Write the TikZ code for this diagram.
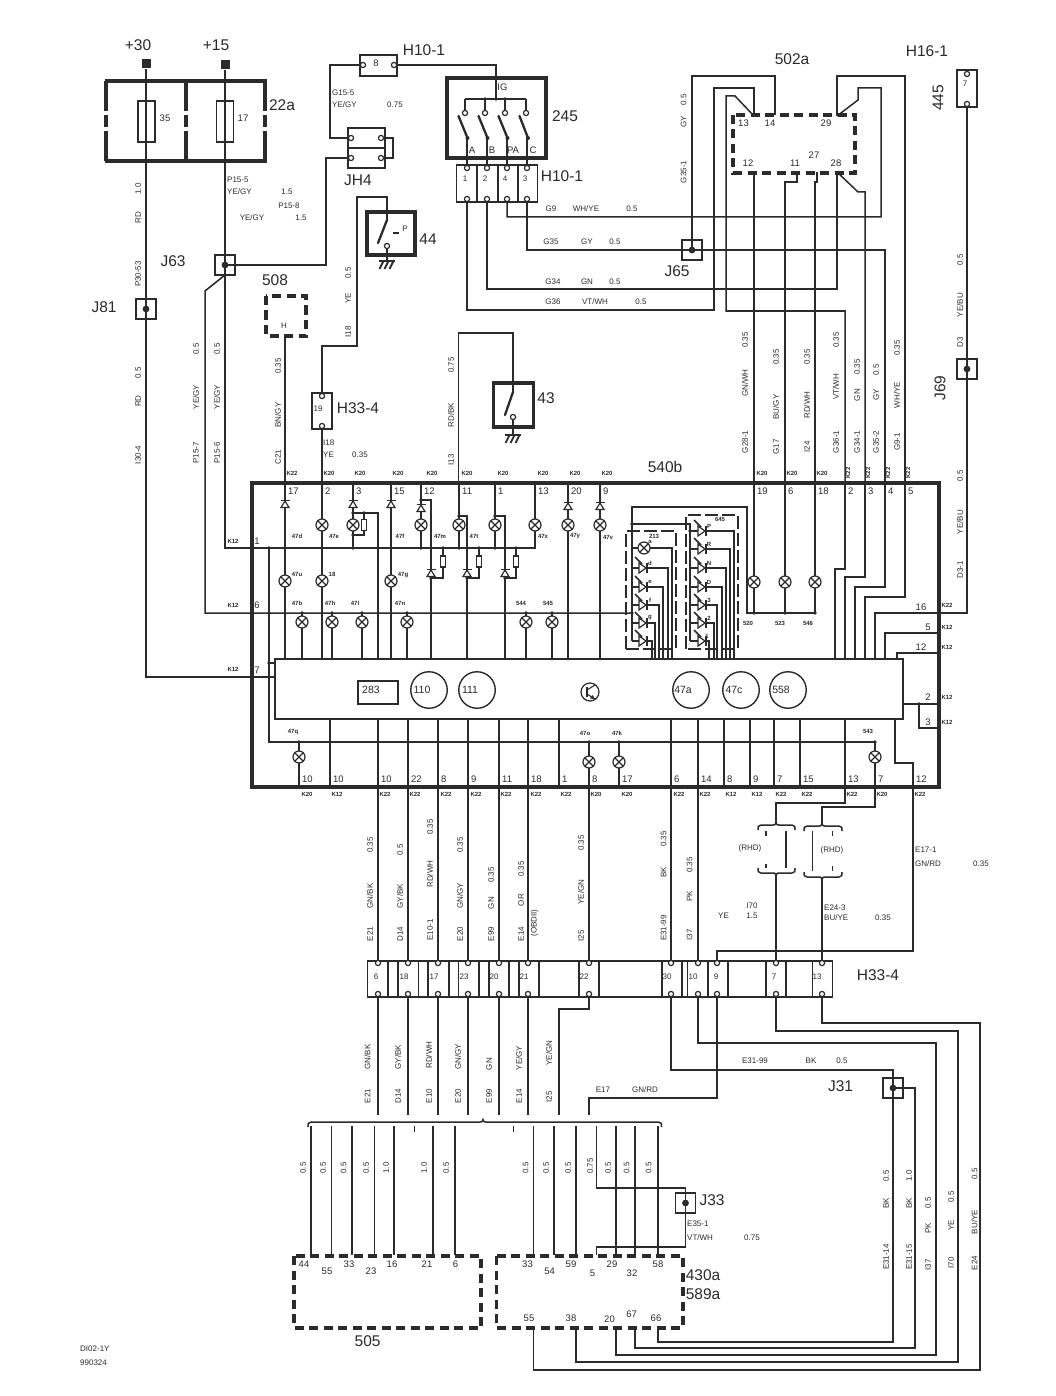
\documentclass[tikz,border=0pt]{standalone}
\usepackage{fontspec}
\setmainfont{Liberation Sans}
\definecolor{ink}{gray}{0.17}
\newcount\lblc
\newcommand\lab[4][midl]{\global\advance\lblc by 1 \node[#1] (t\the\lblc) at (#2,#3) {#4};}
\newcommand\xrl[3]{\lab[rlab]{#1}{#2}{#3}}
\newcommand\xsl[3]{\lab[sml]{#1}{#2}{#3}}
\newcommand\xwl[3]{\lab[sml,anchor=west]{#1}{#2}{#3}}
\newcommand\xtl[3]{\lab[tnyl]{#1}{#2}{#3}}
\newcommand\xbl[3]{\lab[bigl]{#1}{#2}{#3}}
\newcommand\xpn[3]{\lab[midl,anchor=west]{#1}{#2}{#3}}
\newcommand\xdt[2]{\fill[ink] (#1,#2) circle (1.9);}
\newcommand\pinc[2]{\draw[draw=ink,fill=white,line width=1.2pt] (#1,#2) circle (2.6);}
\newcommand\vdi[2]{\draw[draw=ink,fill=white,line width=1.2pt] (#1-4,#2+3.5)--(#1+4,#2+3.5)--(#1,#2-3)--cycle; \draw[ink,line width=1.3pt] (#1-4.5,#2-3.5)--(#1+4.5,#2-3.5);}
\newcommand\ledi[2]{\fill[white] (#1-4,#2-5) rectangle (#1+4,#2+5); \draw[draw=ink,fill=white,line width=1.2pt] (#1-4,#2-5)--(#1-4,#2+5)--(#1+3,#2)--cycle; \draw[ink,line width=1.5pt] (#1+4,#2-5)--(#1+4,#2+5); \draw[ink,line width=1.6pt] (#1-8,#2-11)--(#1-1,#2-4);}
\newcommand\gnd[2]{\draw[ink,line width=1.3pt] (#1-8,#2)--(#1+8,#2); \foreach \dd in {-5,0,5} {\draw[ink,line width=1.8pt] (#1+\dd+1.5,#2)--(#1+\dd-2.5,#2+8);}}
\newcommand\curly[5]{\draw[wire] (#1,{#4+5*#5}) .. controls (#1,{#4+1*#5}) .. (#1+3,#4) -- (#2-3,#4) .. controls (#2-1,#4) .. (#2,{#4-2.5*#5}) .. controls (#2+1,#4) .. (#2+3,#4) -- (#3-3,#4) .. controls (#3,{#4+1*#5}) .. (#3,{#4+5*#5});}
\begin{document}
\begin{tikzpicture}[x=1pt,y=-1pt,
 wire/.style={draw=ink,line width=1.5pt},
 wall/.style={draw=ink,line width=3.4pt},
 thinbox/.style={draw=ink,line width=1.4pt,inner sep=0pt},
 dashb/.style={draw=ink,line width=3.2pt,dash pattern=on 9pt off 5.5pt},
 dashg/.style={draw=ink,line width=1.3pt,dash pattern=on 13pt off 4pt},
 blade/.style={draw=ink,line width=2.3pt,line cap=round},
 jbox/.style={draw=ink,line width=1.6pt,minimum size=20pt,inner sep=0pt},
 term/.style={fill=ink,minimum size=9pt,inner sep=0pt},
 lampn/.style={circle,draw=ink,fill=white,line width=1.2pt,minimum size=12pt,inner sep=0pt,
   path picture={\draw[ink,line width=1.1pt] (path picture bounding box.north west)--(path picture bounding box.south east) (path picture bounding box.north east)--(path picture bounding box.south west);}},
 rndc/.style={circle,draw=ink,line width=1.4pt,minimum size=36.5pt,inner sep=0pt},
 midl/.style={text=ink,inner sep=0pt,font=\fontsize{9.5}{10}\selectfont},
 sml/.style={text=ink,inner sep=0pt,font=\fontsize{8}{9}\selectfont},
 rlab/.style={text=ink,inner sep=0pt,rotate=90,font=\fontsize{8}{9}\selectfont},
 tnyl/.style={text=ink,inner sep=0pt,font=\fontsize{6}{7}\bfseries\selectfont},
 bigl/.style={text=ink,inner sep=0pt,font=\fontsize{15.5}{17}\selectfont},
]
\fill[white] (0,0) rectangle (1056,1396);
\useasboundingbox (0,0) rectangle (1056,1396);
% ---- named pins
\foreach \n/\x in {p17/285,p2/322,p3/353,p15/391,p12/421,p11/459,p1/495,p13/535,p20/568,p9/600,p19/754,p6/785,p18/815,q2/845,q3/865,q4/885,q5/905}
  {\coordinate (T\n) at (\x,483);}
\foreach \n/\x in {a10/299,k10/330,n10/378,n22/408,n8/438,n9/468,n11/499,n18/528,n1/559,o8/589,o17/619,n6/671,n14/698,k8/724,k9/750,n7/774,n15/800,n13/845,o7/875,n12/913}
  {\coordinate (B\n) at (\x,787);}
\foreach \n/\x in {6/378,18/408,17/438,23/468,20/499,21/528,22/589,30/671,10/698,9/717,7/776,13/822}{
  \coordinate (HT\n) at (\x,963);
  \coordinate (HB\n) at (\x,994);}
\foreach \n/\x in {44/311,55/331.6,33/352,23/374.5,16/394,21/433,6/455}
  {\coordinate (E\n) at (\x,1255);}
\foreach \n/\x in {33/533.5,54/554,59/576,5/596.6,29/616,32/635,58/658}
  {\coordinate (F\n) at (\x,1255);}
\foreach \n/\x in {55/533.5,38/576,20/616,67/635,66/658}
  {\coordinate (G\n) at (\x,1328);}
% ---- main components that wires use
\node[term] (P30) at (146,64) {};
\node[term] (P15) at (225,65) {};
\node[jbox] (J81) at (146,309) {};
\node[jbox] (J63) at (225,265) {};
\node[jbox] (J65) at (692,250) {};
\node[jbox] (J69) at (967,369) {};
\node[jbox] (J31) at (893,1088) {};
\node[jbox] (J33) at (685.5,1203) {};
\node[draw=ink,line width=1.4pt,minimum width=628pt,minimum height=60pt,inner sep=0pt] (mod) at (589,689) {};
\coordinate (c13) at (535,548);
\coordinate (r6) at (632,613);
\coordinate (a19) at (322,396);
\coordinate (b19) at (322,426);
\coordinate (h8a) at (363,65);
\coordinate (h8b) at (394,65);
\coordinate (jha) at (351,138);
\coordinate (jhb) at (381,138);
\coordinate (jhc) at (351,158);
\coordinate (jhd) at (381,158);
\foreach \n/\x in {1/467,2/487,4/507,3/527}{
  \coordinate (St\n) at (\x,168);
  \coordinate (Sb\n) at (\x,199);}
\coordinate (c445a) at (967,74);
\coordinate (c445b) at (967,104);
% ---- wires top left
\draw[wire] (P30) -- (J81.center);
\draw[wire] (J81.center) |- (mod.west |- 0,677);
\draw[wire] (P15) -- (J63.center);
\draw[wire] (J63.center) |- (c13) -- (Tp13);
\draw[wire] (J63.center) -- (225,275) -- (205,291) |- (r6);
\draw[wire] (J63.center) -- (326,265) |- (jhc);
\draw[wire] (jha) -- (330,138) |- (h8a);
\draw[wire] (jhb) -- (393,138) |- (jhd);
\draw[wire] (h8b) -- (496,65) -- (496,99);
\draw[wire] (465,99) -- (526,99);
\foreach \x in {465,485,505,526} {\draw[wire] (\x,99) -- (\x,113);}
\foreach \n/\x in {1/467,2/487,4/507,3/527} {\draw[wire] (\x,138) -- (St\n);}
\draw[wire] (a19) |- (357,346) |- (387,197) -- (387,220);
\draw[wire] (387,243) -- (387,261);
\draw[wire] (b19) -- (322,483);
\draw[wire] (285,336) -- (Tp17);
\draw[wire] (458.5,483) |- (513,333) -- (513,392);
\draw[wire] (513,417) -- (513,435);
% ---- wires top right
\draw[wire] (Sb4) |- (881,217) |- (858,88) -- (858,100) -- (837,116);
\draw[wire] (Sb3) |- (J65.center);
\draw[wire] (J65.center) -- (885,250) -- (Tq4);
\draw[wire] (J65.center) |- (775,76) -- (775,115);
\draw[wire] (Sb2) |- (837,289) -- (837,172);
\draw[wire] (837,116) |- (905,76) -- (Tq5);
\draw[wire] (837,172) -- (858,192) -- (865,192) -- (Tq3);
\draw[wire] (Sb1) |- (714,310) |- (754,88) -- (754,116);
\draw[wire] (754,116) -- (735,96) -- (726,96) |- (845,311) -- (Tq2);
\draw[wire] (754,172) -- (Tp19);
\draw[wire] (797,172) -- (797,182) -- (785,182) -- (Tp6);
\draw[wire] (817,172) -- (817,182) -- (815,182) -- (Tp18);
\draw[wire] (c445b) -- (J69.center);
\draw[wire] (J69.center) |- (875,613) -- (875,659);
% ---- wires inside 540b, upper
\foreach \n in {p17,p15,p20,p9,p2} {\draw[wire] (T\n) -- (T\n |- mod.north);}
\draw[wire] (Tp3) -- (353,548);
\draw[wire] (Tp12) -- (421,548);
\draw[wire] (Tp11) -- (459,548);
\draw[wire] (Tp1) -- (495,548);
\draw[wire] (353,513) -| (378,659);
\draw[wire] (353,535) -| (364,513);
\draw[wire] (421,500) -| (431,659);
\draw[wire] (459,516) -| (467,659);
\draw[wire] (495,516) -| (505,659);
\foreach \x/\y in {431/443,467/479,505/516} {\draw[wire] (\y,548) |- (\x,578);}
\draw[wire] (Tq2) |- (835,569) -- (835,659);
\draw[wire] (Tq3) |- (845,577) -- (845,659);
\draw[wire] (Tq4) |- (855,587) -- (855,659);
\draw[wire] (Tq5) |- (865,597) -- (865,659);
\draw[wire] (885,659) |- (939,633);
\draw[wire] (897,659) |- (939,653);
\draw[wire] (903,704) -- (939,704);
\draw[wire] (919,704) |- (939,728);
\draw[wire] (Tp19) -- (754,613);
\draw[wire] (Tp6) -- (785,613);
\draw[wire] (Tp18) -- (815,613);
\draw[wire] (815,613) -- (747,613) |- (632,507) -- (632,641);
\draw[wire] (632,524) -| (690,641);
\foreach \x in {302,332,362,407,526,552} {\draw[wire] (\x,613) -- (\x,659);}
\foreach \y/\v in {531/734,549/730,568/726,587/722,605/717,623/714,641/709} {\draw[wire] (690,\y) -| (\v,659);}
\foreach \y/\v in {548/672,568/668,587/663,605/659,623/655,641/652} {\draw[wire] (632,\y) -| (\v,659);}
% ---- wires inside 540b, lower
\draw[wire] (269,548) |- (875,742);
\draw[wire] (269,663) -- (275,663);
\foreach \n in {k10,n10,n22,n8,n9,n11,n18,n1,n6,n14,k8,k9,n7,n15,n13} {\draw[wire] (mod.south -| B\n) -- (B\n);}
\draw[wire] (299,742) -- (Ba10);
\draw[wire] (589,742) -- (Bo8);
\draw[wire] (619,742) -- (Bo17);
\draw[wire] (875,742) -- (Bo7);
\draw[wire] (895,719) |- (913,763) -- (Bn12);
% ---- wires between 540b and H33-4
\foreach \a/\b in {n10/6,n22/18,n8/17,n9/23,n11/20,n18/21,o8/22,n6/30,n14/10} {\draw[wire] (B\a) -- (HT\b);}
\draw[wire] (Bn13) -- (845,803) -| (776,824);
\draw[wire] (Bo7) -- (875,807) -| (822,824);
\draw[wire] (776,875) -- (HT7);
\draw[wire] (822,879) -- (HT13);
\draw[wire] (Bn12) |- (717,951) -- (HT9);
\curly{758}{776}{795}{825}{1}
\curly{758}{776}{795}{873}{-1}
\curly{804}{822}{842}{826}{1}
\curly{804}{822}{842}{877}{-1}
\draw[wire] (786,831) -- (786,868);
\draw[wire] (812.5,831) -- (812.5,871);
\foreach \x/\a/\b in {766/831/836,766/864/868,832.5/831/836,832.5/866/871} {\draw[wire] (\x,\a) -- (\x,\b);}
% ---- wires below H33-4
\foreach \n in {6,18,17,23,20,21} {\draw[wire] (HB\n) -- (HB\n |- 0,1115);}
\draw[wire] (HB22) |- (559,1009) -- (559,1115);
\draw[wire] (HB9) |- (589,1098) -- (589,1115);
\draw[wire] (HB30) |- (893,1070) -- (J31.center);
\draw[wire] (J31.center) -- (893,1342) -| (G66);
\draw[wire] (J31.center) -- (915,1088) -- (915,1348) -| (G67);
\draw[wire] (HB10) |- (936,1043) -- (936,1355) -| (G20);
\draw[wire] (HB7) |- (958,1031) -- (958,1362) -| (G38);
\draw[wire] (HB13) |- (980,1023) -- (980,1370) -| (G55);
\curly{308}{483}{661.5}{1122}{1}
\foreach \n in {44,55,33,23,16,21,6} {\draw[wire] (E\n) -- (E\n |- 0,1126);}
\foreach \n in {33,54,59,29,32,58} {\draw[wire] (F\n) -- (F\n |- 0,1126);}
\draw[wire] (414.6,1126) -- (414.6,1132);
\draw[wire] (513.6,1126) -- (513.6,1132);
\draw[wire] (F5 |- 0,1126) |- (J33.center |- 0,1188) -- (J33.center);
\draw[wire] (J33.center) |- (596.6,1247) -- (F5);
% ---- 22a
\draw[wall] (104.5,81) -- (266.5,81);
\draw[wall] (104.5,161) -- (266.5,161);
\foreach \x in {106,186,265}{
  \draw[wall] (\x,81) -- (\x,111);
  \draw[wall] (\x,115) -- (\x,127);
  \draw[wall] (\x,131) -- (\x,161);}
\node[thinbox,minimum width=17pt,minimum height=41pt] (F35) at (146.5,121.5) {};
\node[thinbox,minimum width=17pt,minimum height=41pt] (F17) at (225,121.5) {};
% ---- connectors and boxes
\node[thinbox,minimum width=37pt,minimum height=21pt] (c8) at (378.5,65.5) {};
\node[thinbox,minimum width=37pt,minimum height=40pt] (JH4) at (366.5,148) {};
\draw[draw=ink,line width=1.4pt] (348,148) -- (385,148);
\node[thinbox,minimum width=20pt,minimum height=36pt] (c19) at (322,411) {};
\node[thinbox,minimum width=20pt,minimum height=37pt] (c445) at (967,88.5) {};
\draw[wall] (447,78) rectangle (546,158);
\node[thinbox,minimum width=81pt,minimum height=37pt] (H101) at (497,183.5) {};
\foreach \x in {477,498,518} {\draw[wire] (\x,165) -- (\x,202);}
\draw[wall] (367,212) rectangle (415,255);
\draw[wall] (493.5,383) rectangle (533.5,427);
\node[thinbox,minimum width=465pt,minimum height=36pt] (H334) at (599.75,979) {};
\foreach \x in {388,398,418.6,428,449,458.6,479,489,509,519,539,579,599,662,682,687.5,708,728,766,786,812.5} {\draw[wire] (\x,961) -- (\x,997);}
\draw[dashb] (266,296) rectangle (306,336);
\draw[dashb] (733,115) rectangle (855,173);
\draw[dashb] (294,1256) rectangle (481,1328);
\draw[dashb] (496.6,1256) rectangle (683,1328);
\draw[wall] (252,483) rectangle (939,787);
\draw[dashg] (626,649) -- (626,531) -- (676,531) -- (676,649) -- cycle;
\draw[dashg] (686,649) -- (686,515) -- (738,515) -- (738,649) -- cycle;
\node[thinbox,minimum width=40pt,minimum height=23pt] (b283) at (378,692.5) {};
\foreach \n/\x in {c110/429,c111/477,c47a/691,c47c/741,c558/788} {\node[rndc] (\n) at (\x,690) {};}
% ---- pin circles
\foreach \x/\y in {363/65,394/65,351/138,381/138,351/158,381/158,322/396,322/426,967/74,967/104,465/113,485/113,505/113,526/113,387/246,513/417}
  {\pinc{\x}{\y}}
\foreach \x in {467,487,507,527}{\pinc{\x}{168}\pinc{\x}{199}}
\foreach \x in {378,408,438,468,499,528,589,671,698,717,776,822}{\pinc{\x}{963}\pinc{\x}{994}}
% ---- switches
\foreach \a/\b in {458.5/467.5,478.5/487.5,498.5/507.5,519.5/528}{\draw[blade] (\a,116) -- (\b,138);\fill[ink] (\b,138) circle (2);}
\draw[blade] (387,220) -- (378,243);
\draw[blade] (513,392) -- (505,415);
\draw[ink,line width=1.2pt] (393,233) -- (399,233);
\gnd{387}{261}
\gnd{513}{435}
% ---- dots
\foreach \x/\y in {496/99,485/99,505/99,269/548,322/548,353/548,421/548,459/548,495/548,443/548,479/548,516/548,269/613,632/613,269/663,299/742,589/742,619/742,875/742,
  353/513,353/535,421/500,459/516,495/516,431/578,467/578,505/578,364/513,
  302/613,332/613,362/613,407/613,526/613,552/613,754/613,785/613,815/613,632/524,690/531,919/704}
  {\xdt{\x}{\y}}
\foreach \n in {J81,J63,J65,J69,J31,J33}{\fill[ink] (\n.center) circle (3.4);}
% ---- diodes
\vdi{285}{504} \vdi{353}{504} \vdi{391}{504} \vdi{421}{508} \vdi{568}{506} \vdi{600}{506}
\vdi{431}{573} \vdi{467}{573} \vdi{505}{573}
% ---- resistors
\foreach \n/\x/\y in {ra/364/525,rb/443/561.5,rc/479/561.5,rd/516/561.5}
  {\node[thinbox,fill=white,minimum width=4.5pt,minimum height=11pt] (\n) at (\x,\y) {};}
% ---- lamps
\foreach \n/\x/\y in {l47e/322/525,l3/353/525,l12/421/525,l47t/459/525,l1/495/525,l47x/535/525,l47y/568/525,l47v/600/525,
  l47u/285/581,l18/322/581,l47g/391/581,
  l47b/302/622,l47h/332/622,l47l/362/622,l47n/407/622,l544/526/622,l545/552/622,
  l520/754/582,l523/785/582,l546/815/582,
  l47q/299/757,l47o/589/762,l47k/619/762,l543/875/757,l213/644/548}
  {\node[lampn] (\n) at (\x,\y) {};}
\foreach \y in {568,587,605,623,641} {\ledi{643}{\y}}
\foreach \y in {531,549,568,587,605,623,641} {\ledi{702}{\y}}
% ---- transistor
\node[circle,draw=ink,line width=1.2pt,minimum size=18pt,inner sep=0pt] (tr) at (590,692) {};
\draw[ink,line width=1.6pt] (587,687) -- (587,697);
\draw[ink,line width=1.1pt] (587,690) -- (595,685) (587,694) -- (595,699);
\fill[ink] (595,699) -- (590,698.5) -- (592.5,695) -- cycle;
% ---- large labels
\xbl{138}{45}{+30} \xbl{216}{45}{+15} \xbl{282}{105}{22a} \xbl{424}{50}{H10-1} \xbl{358}{180}{JH4}
\xbl{173}{261}{J63} \xbl{104}{307}{J81} \xbl{275}{280}{508} \xbl{428}{239}{44} \xbl{358}{408}{H33-4}
\xbl{565}{116}{245} \xbl{562}{176}{H10-1} \xbl{792}{59}{502a} \xbl{927}{51}{H16-1}
\lab[bigl,rotate=90]{938}{98}{445} \lab[bigl,rotate=90]{940}{388}{J69}
\xbl{677}{271}{J65} \xbl{546}{398}{43} \xbl{665}{467}{540b}
\xbl{878}{975}{H33-4} \xbl{840.6}{1086}{J31} \xbl{712}{1200}{J33}
\xbl{367.6}{1341}{505} \xbl{703}{1275}{430a} \xbl{703}{1294}{589a}
% ---- mid labels
\lab{165}{118}{35} \lab{243}{118}{17} \lab{376}{63}{8} \lab{502.5}{87}{IG}
\lab{472}{150}{A} \lab{492}{150}{B} \lab{513}{150}{PA} \lab{533}{150}{C}
\lab[sml]{465}{179}{1} \lab[sml]{485}{179}{2} \lab[sml]{505}{179}{4} \lab[sml]{525}{179}{3}
\lab[sml]{318}{409}{19} \lab[sml]{965}{84}{7} \lab[sml]{405}{229}{P} \lab[sml]{284}{326}{H}
\lab{743.5}{123}{13} \lab{770}{123}{14} \lab{826}{123}{29} \lab{748}{163}{12} \lab{795}{163}{11} \lab{814}{155}{27} \lab{836}{163}{28}
% ---- rotated wire labels, top
\xrl{138}{189}{1.0} \xrl{138}{218}{RD} \xrl{138}{274}{P30-53} \xrl{138}{373}{0.5} \xrl{138}{401}{RD} \xrl{138}{455}{I30-4}
\xrl{196}{349}{0.5} \xrl{196}{397}{YE/GY} \xrl{196}{453}{P15-7} \xrl{217}{349}{0.5} \xrl{217}{397}{YE/GY} \xrl{217}{453}{P15-6}
\xrl{278}{366}{0.35} \xrl{278}{415}{BN/GY} \xrl{278}{457}{C21}
\xrl{348}{273}{0.5} \xrl{348}{298}{YE} \xrl{348}{332}{I18}
\xrl{451}{365}{0.75} \xrl{451}{415}{RD/BK} \xrl{451}{460}{I13}
\xrl{683.5}{100}{0.5} \xrl{683.5}{122}{GY} \xrl{683.5}{172}{G35-1}
\xrl{745}{340}{0.35} \xrl{745}{383}{GN/WH} \xrl{745}{442}{G28-1}
\xrl{776}{357}{0.35} \xrl{776}{407}{BU/GY} \xrl{776}{447}{G17}
\xrl{807}{357}{0.35} \xrl{807}{405}{RD/WH} \xrl{807}{447}{I24}
\xrl{836}{340}{0.35} \xrl{836}{387}{VT/WH} \xrl{836}{442}{G36-1}
\xrl{857}{367}{0.35} \xrl{857}{395}{GN} \xrl{857}{442}{G34-1}
\xrl{876}{370}{0.5} \xrl{876}{395}{GY} \xrl{876}{442}{G35-2}
\xrl{897}{348}{0.35} \xrl{897}{395}{WH/YE} \xrl{897}{442}{G9-1}
\xrl{960}{260}{0.5} \xrl{960}{305}{YE/BU} \xrl{960}{342}{D3} \xrl{960}{476}{0.5} \xrl{960}{522}{YE/BU} \xrl{960}{570}{D3-1}
% ---- horizontal wire labels, top
\xwl{332}{93}{G15-5} \xwl{332}{105}{YE/GY} \xsl{395}{105}{0.75}
\xwl{227}{180}{P15-5} \xwl{227}{192}{YE/GY} \xsl{287}{192}{1.5} \xsl{289}{206}{P15-8} \xsl{252}{218}{YE/GY} \xsl{301}{218}{1.5}
\xwl{323}{443}{I18} \xwl{323}{455}{YE} \xsl{360}{455}{0.35}
\xsl{551}{209}{G9} \xsl{586}{209}{WH/YE} \xsl{632}{209}{0.5}
\xsl{551}{242}{G35} \xsl{587}{242}{GY} \xsl{615}{242}{0.5}
\xsl{553}{282}{G34} \xsl{587}{282}{GN} \xsl{615}{282}{0.5}
\xsl{553}{302}{G36} \xsl{595}{302}{VT/WH} \xsl{641}{302}{0.5}
% ---- 540b top numbers
\foreach \t/\x in {17/285,2/322,3/353,15/391,12/421,11/459,1/495,13/535,20/568,9/600,19/754,6/785,18/815,2/845,3/865,4/885,5/905} {\xpn{\x+3}{491}{\t}}
\foreach \t/\x in {K22/292,K20/329,K20/360,K20/398,K20/432,K20/467,K20/503,K20/543,K20/575,K20/607,K20/762,K20/792,K20/822} {\xtl{\x}{473}{\t}}
\foreach \x in {848,868,888,908} {\lab[tnyl,rotate=90]{\x}{473}{K22}}
% ---- 540b bottom numbers
\foreach \t/\x in {10/299,10/330,10/378,22/408,8/438,9/468,11/499,18/528,1/559,8/589,17/619,6/671,14/698,8/724,9/750,7/774,15/800,13/845,7/875,12/913} {\xpn{\x+3}{779}{\t}}
\foreach \t/\x in {K20/307,K12/337,K22/385,K22/415,K22/446,K22/476,K22/506,K22/536,K22/566,K20/596,K20/627,K22/679,K22/705,K12/731,K12/757,K22/781,K22/807,K22/852,K20/882,K22/920} {\xtl{\x}{794}{\t}}
% ---- 540b side numbers
\lab{257}{541}{1} \lab{257}{605}{6} \lab{257}{670}{7}
\xtl{233}{541}{K12} \xtl{233}{605}{K12} \xtl{233}{669}{K12}
\lab{921}{607}{16} \lab{928}{627}{5} \lab{921}{647}{12} \lab{928}{697}{2} \lab{928}{722}{3}
\xtl{947}{605}{K22} \xtl{947}{627}{K12} \xtl{947}{647}{K12} \xtl{947}{697}{K12} \xtl{947}{722}{K12}
% ---- lamp labels
\foreach \t/\x/\y in {47d/297/536,47e/334/536,47f/400/536,47m/440/536,47t/474/536,47x/543/536,47y/575/536,47v/608/537,47u/297/574,18/332/574,47g/403/575,
  47b/297/603,47h/330/603,47l/355/603,47n/400/603,544/521/603,545/548/603,47q/293/732,47o/585/733,47k/617/733,543/868/731,520/748/623,523/780/623,546/808/623,213/654/536,645/720/519,a/650/542,d/650/563,e/650/582,f/650/600,g/650/618,P/709/526,R/709/544,N/709/563,D/709/582,3/709/600,2/709/618,1/707/636}
  {\xtl{\x}{\y}{\t}}
% ---- module
\lab[midl,anchor=west,font=\fontsize{10.5}{12}\selectfont]{362}{690}{283}
\foreach \t/\x in {110/422,111/470,47a/683,47c/734,558/781} {\lab[midl,font=\fontsize{10.5}{12}\selectfont]{\x}{690}{\t}}
% ---- H33-4 numbers
\foreach \t/\x in {6/376,18/404,17/434,23/464,20/494,21/524,22/584,30/667,10/693,9/716,7/774,13/817} {\lab[sml]{\x}{977}{\t}}
% ---- labels between 540b and H33-4
\xrl{370}{934}{E21} \xrl{370}{896}{GN/BK} \xrl{370}{845}{0.35}
\xrl{400}{934}{D14} \xrl{400}{896}{GY/BK} \xrl{400}{850}{0.5}
\xrl{430}{930}{E10-1} \xrl{430}{874}{RD/WH} \xrl{430}{827}{0.35}
\xrl{460}{934}{E20} \xrl{460}{896}{GN/GY} \xrl{460}{845}{0.35}
\xrl{491}{934}{E99} \xrl{491}{903}{GN} \xrl{491}{875}{0.35}
\xrl{521}{934}{E14} \xrl{521}{900}{OR} \xrl{521}{869}{0.35} \xrl{534.5}{923}{(OBDII)}
\xrl{581}{936}{I25} \xrl{581}{892}{YE/GN} \xrl{581}{843}{0.35}
\xrl{663.5}{928}{E31-99} \xrl{663.5}{872}{BK} \xrl{663.5}{839}{0.35}
\xrl{689.6}{935}{I37} \xrl{689.6}{896}{PK} \xrl{689.6}{865}{0.35}
\xsl{750}{848}{(RHD)} \xsl{832}{850}{(RHD)}
\xsl{752}{906}{I70} \xsl{723.5}{916}{YE} \xsl{752}{916}{1.5}
\xwl{824}{908}{E24-3} \xwl{824}{918}{BU/YE} \xsl{883}{918}{0.35}
\xwl{915}{850}{E17-1} \xwl{915}{864}{GN/RD} \xsl{981}{864}{0.35}
% ---- labels below H33-4
\xrl{367.5}{1096}{E21} \xrl{367.5}{1057}{GN/BK} \xrl{398}{1096}{D14} \xrl{398}{1057}{GY/BK}
\xrl{429}{1096}{E10} \xrl{429}{1055}{RD/WH} \xrl{458}{1096}{E20} \xrl{458}{1057}{GN/GY}
\xrl{489}{1096}{E99} \xrl{489}{1064}{GN} \xrl{519}{1096}{E14} \xrl{519}{1058}{YE/GY}
\xrl{549}{1097}{I25} \xrl{549}{1053}{YE/GN}
\xsl{603}{1090}{E17} \xsl{645}{1090}{GN/RD} \xsl{755}{1061}{E31-99} \xsl{811}{1061}{BK} \xsl{842}{1061}{0.5}
\foreach \x/\t in {303/0.5,323/0.5,343.6/0.5,366/0.5,386/1.0,424/1.0,446/0.5,525.6/0.5,546/0.5,568/0.5,608/0.5,626.5/0.5,648.6/0.5} {\xrl{\x}{1168}{\t}}
\xrl{590}{1166}{0.75}
\xwl{687}{1224}{E35-1} \xwl{687}{1238}{VT/WH} \xsl{752}{1238}{0.75}
\xrl{886}{1176}{0.5} \xrl{886}{1203}{BK} \xrl{886}{1257}{E31-14}
\xrl{909}{1176}{1.0} \xrl{909}{1203}{BK} \xrl{909}{1257}{E31-15}
\xrl{928}{1203}{0.5} \xrl{928}{1228}{PK} \xrl{928}{1265}{I37}
\xrl{951}{1197}{0.5} \xrl{951}{1225}{YE} \xrl{951}{1263}{I70}
\xrl{974.5}{1174}{0.5} \xrl{974.5}{1222}{BU/YE} \xrl{974.5}{1263}{E24}
% ---- numbers in 505, 430a
\foreach \t/\x/\y in {44/304/1264,55/327/1271,33/349/1264,23/371/1271,16/392/1264,21/427/1264,6/455.6/1264,33/527.5/1264,54/549.6/1271,59/571/1264,5/592.5/1273,29/612/1264,32/632/1273,58/658/1264,55/529/1318,38/571/1318,20/609.5/1319,67/631.6/1314,66/656/1318}
  {\lab{\x}{\y}{\t}}
\xwl{80}{1349}{DI02-1Y} \xwl{80}{1363}{990324}
\end{tikzpicture}
\end{document}
